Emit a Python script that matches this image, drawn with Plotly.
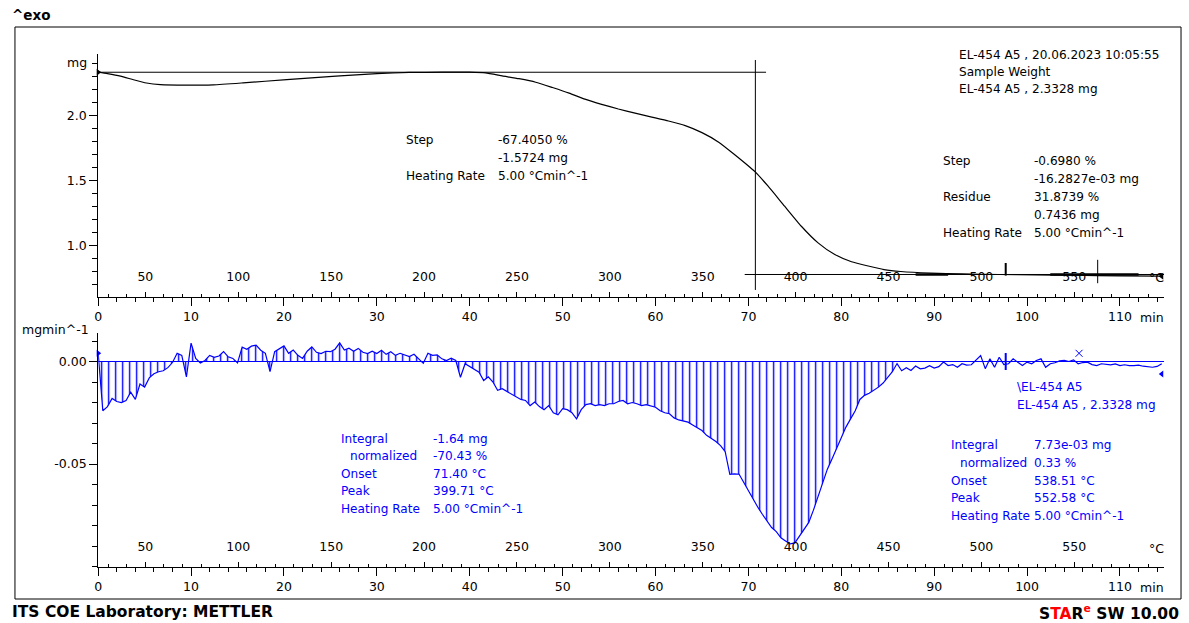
import numpy as np
import plotly.graph_objects as go

W, H = 1189, 623

# ---------------- data ----------------
T_START = 24.6        # degC at t = 0 min
HEATING_RATE = 5.0    # degC / min
T_END_MIN = 114.75    # end of the time axis (min)
SAMPLE_WEIGHT = 2.3328

# TGA curve (time in min, mass in mg)
tga_time = [0.0, 1.0, 2.4, 3.8, 5.2, 6.7, 9.5, 12.4, 15.6, 20.3, 25.6, 30.0, 33.5,
            37.0, 40.0, 41.7, 43.5, 45.3, 47.1, 48.9, 50.7, 52.4, 54.2, 56.0, 57.8,
            59.6, 61.4, 63.2, 65.0, 66.8, 68.5, 70.7, 72.1, 73.9, 75.7, 77.5, 79.3,
            81.1, 82.9, 84.6, 86.4, 89.6, 93.0, 97.0, 101.0, 105.0, 110.0, 114.5]
tga_mg = [2.333, 2.322, 2.303, 2.275, 2.250, 2.237, 2.233, 2.236, 2.251, 2.276, 2.303,
          2.322, 2.331, 2.333, 2.333, 2.328, 2.305, 2.283, 2.256, 2.215, 2.172, 2.126,
          2.086, 2.050, 2.018, 1.988, 1.958, 1.922, 1.868, 1.795, 1.700, 1.568, 1.458,
          1.302, 1.148, 1.020, 0.930, 0.875, 0.842, 0.815, 0.800, 0.787, 0.781, 0.777,
          0.774, 0.771, 0.767, 0.764]

# DTG curve, sampled every 0.5 min, in 1e-3 mg/min
DTG_STEP_MIN = 0.5
dtg_milli = [
    4.0, -24.0, -22.0, -18.0, -19.5, -20.0, -19.0, -15.0, -18.5, -11.0,
    -12.5, -8.0, -6.0, -5.0, -4.5, -3.0, -0.5, 4.0, 3.0, -7.5,
    9.0, 1.5, -0.7, 0.5, 3.0, 2.0, 2.7, 4.8, 2.3, 1.5,
    -0.7, 7.0, 6.0, 7.5, 8.0, 5.5, 4.0, -4.9, 4.8, 6.0,
    7.6, 4.0, 5.6, 3.0, 1.5, 5.0, 7.1, 4.5, 3.9, 5.0,
    4.8, 6.0, 9.1, 5.6, 6.5, 5.0, 6.4, 4.5, 3.9, 5.0,
    3.9, 5.5, 3.5, 4.8, 3.0, 4.0, 3.2, 2.4, 3.5, 1.5,
    -0.9, 4.0, 3.0, 3.2, 1.3, 0.5, 1.6, 0.5, -7.7, -1.1,
    -2.5, -3.6, -5.2, -9.3, -7.5, -10.0, -14.0, -13.3, -14.5, -16.0,
    -17.0, -18.5, -19.0, -21.5, -19.8, -22.0, -23.5, -21.5, -25.0, -26.0,
    -23.0, -23.5, -25.0, -28.0, -23.5, -21.0, -20.6, -21.5, -21.0, -21.5,
    -20.6, -20.6, -19.5, -19.0, -20.6, -20.0, -20.6, -21.5, -21.0, -21.5,
    -22.3, -24.0, -25.0, -25.5, -27.5, -28.5, -29.0, -29.6, -31.0, -32.5,
    -33.7, -36.0, -37.5, -39.0, -41.0, -44.0, -55.0, -54.8, -55.0, -59.0,
    -63.5, -67.5, -71.0, -74.5, -78.0, -81.0, -83.0, -86.0, -87.5, -89.0,
    -88.5, -85.0, -82.0, -78.5, -72.5, -66.0, -59.0, -52.5, -47.5, -42.5,
    -37.0, -32.0, -28.0, -24.0, -18.5, -16.5, -15.5, -14.0, -12.5, -10.5,
    -8.0, -5.0, -1.0, -4.5, -3.0, -4.4, -2.2, -3.6, -3.2, -2.0,
    -3.2, -2.5, -0.3, -2.0, -1.5, -2.8, -1.1, -1.8, -1.6, 0.5,
    2.9, -3.5, 1.3, -2.8, 2.1, -1.5, -1.1, 1.3, -0.5, -2.0,
    -0.3, -1.1, 0.5, 1.3, -2.8, -1.1, -0.6, 0.3, 0.5, 0.0,
    0.8, -1.1, -0.5, -0.3, -1.5, -2.0, -1.1, -1.5, -1.6, -1.2,
    -2.0, -1.6, -2.0, -2.0, -1.8, -2.3, -2.5, -2.8, -2.4, -1.1,
]
HATCH_END_MIN = 86.0          # end of the hatched integration range

# evaluation construction lines (TGA panel)
step_line_end_min = 71.9
inflection_min = 70.75
inflection_span_mg = [2.427, 0.658]
residue_level_mg = 0.777
residue_line_start_min = 69.6
tangent_segments_min = [(88.0, 91.5), (102.5, 112.0)]
limit_cross_min = 107.6
limit_cross_span_mg = [0.89, 0.71]
limit_mark_min = 97.7
peak2_temp_c = 552.58
peak2_mark_value = 0.004

# tick labels
y_top_tickvals = [1.0, 1.5, 2.0]
y_top_ticktext = ["1.0", "1.5", "2.0"]
y_bot_tickvals = [-0.05, 0.0]
y_bot_ticktext = ["-0.05", "0.00"]

# text blocks: (text, x_px, y_px)
top_mid_text = [("Step", 405, 140), ("-67.4050 %", 498, 140), ("-1.5724 mg", 498, 158),
                ("Heating Rate", 405, 176), ("5.00 °Cmin^-1", 498, 176)]
top_right_text = [("EL-454 A5 , 20.06.2023 10:05:55", 960, 55), ("Sample Weight", 960, 72),
                  ("EL-454 A5 , 2.3328 mg", 960, 89),
                  ("Step", 944, 161), ("-0.6980 %", 1035, 161), ("-16.2827e-03 mg", 1035, 179),
                  ("Residue", 944, 197), ("31.8739 %", 1035, 197), ("0.7436 mg", 1035, 215),
                  ("Heating Rate", 944, 233), ("5.00 °Cmin^-1", 1035, 233)]
bot_left_text = [("Integral", 340, 439), ("-1.64 mg", 432, 439), ("normalized", 349, 456),
                 ("-70.43 %", 432, 456), ("Onset", 340, 474), ("71.40 °C", 432, 474),
                 ("Peak", 340, 491), ("399.71 °C", 432, 491), ("Heating Rate", 340, 509),
                 ("5.00 °Cmin^-1", 432, 509)]
bot_right_text = [("\\EL-454 A5", 1018, 387), ("EL-454 A5 , 2.3328 mg", 1018, 405),
                  ("Integral", 952, 445), ("7.73e-03 mg", 1035, 445), ("normalized", 961, 463),
                  ("0.33 %", 1035, 463), ("Onset", 952, 481), ("538.51 °C", 1035, 481),
                  ("Peak", 952, 498), ("552.58 °C", 1035, 498), ("Heating Rate", 952, 516),
                  ("5.00 °Cmin^-1", 1035, 516)]

# ---------------- layout helpers ----------------
FONT = "DejaVu Sans"
FS = 12.5        # tick labels
FS_TXT = 12.1    # evaluation texts
BLUE = "#0000FF"


def px(x):
    return x / W


def py(y):
    return 1 - y / H


XDOM = [px(94.5), px(1164)]
YDOM_TOP = [py(297), py(54)]
YDOM_BOT = [py(567), py(333)]
Y_TOP_RANGE = [2.0 + (115.5 - 297) / 130, 2.0 + (115.5 - 54) / 130]
Y_BOT_RANGE = [-(567 - 361.5) / 2050, (361.5 - 333) / 2050]
TEMP_RANGE = [T_START, T_START + HEATING_RATE * T_END_MIN]

dtg_time = np.arange(len(dtg_milli)) * DTG_STEP_MIN
dtg = np.array(dtg_milli) / 1000.0
hatch_mask = dtg_time <= HATCH_END_MIN

fig = go.Figure()

# --- TGA panel ---
fig.add_trace(go.Scatter(x=tga_time, y=tga_mg, mode="lines", line=dict(color="black", width=1.2,
                         shape="spline", smoothing=0.5), xaxis="x", yaxis="y", hoverinfo="skip"))
fig.add_trace(go.Scatter(x=[0, step_line_end_min], y=[SAMPLE_WEIGHT, SAMPLE_WEIGHT], mode="lines",
                         line=dict(color="black", width=1), xaxis="x", yaxis="y"))
fig.add_trace(go.Scatter(x=[inflection_min, inflection_min], y=inflection_span_mg, mode="lines",
                         line=dict(color="black", width=1), xaxis="x", yaxis="y"))
fig.add_trace(go.Scatter(x=[residue_line_start_min, T_END_MIN], y=[residue_level_mg, residue_level_mg],
                         mode="lines", line=dict(color="black", width=1), xaxis="x", yaxis="y"))
for a, b in tangent_segments_min:
    fig.add_trace(go.Scatter(x=[a, b], y=[residue_level_mg, residue_level_mg], mode="lines",
                             line=dict(color="black", width=2.5), xaxis="x", yaxis="y"))
fig.add_trace(go.Scatter(x=[limit_cross_min, limit_cross_min], y=limit_cross_span_mg, mode="lines",
                         line=dict(color="black", width=1), xaxis="x", yaxis="y"))
fig.add_trace(go.Scatter(x=[limit_mark_min], y=[residue_level_mg + 0.04], mode="markers",
                         marker=dict(symbol="line-ns", size=9, line=dict(color="black", width=2)),
                         xaxis="x", yaxis="y"))
fig.add_trace(go.Scatter(x=[tga_time[0]], y=[tga_mg[0]], mode="markers",
                         marker=dict(symbol="triangle-right", size=6, color="black"),
                         xaxis="x", yaxis="y", cliponaxis=False))
fig.add_trace(go.Scatter(x=[tga_time[-1]], y=[tga_mg[-1]], mode="markers",
                         marker=dict(symbol="triangle-left", size=6, color="black"),
                         xaxis="x", yaxis="y", cliponaxis=False))

# --- DTG panel ---
fig.add_trace(go.Scatter(x=[0, T_END_MIN], y=[0, 0], mode="lines", line=dict(color=BLUE, width=1),
                         xaxis="x2", yaxis="y2"))
fig.add_trace(go.Scatter(x=dtg_time[hatch_mask], y=dtg[hatch_mask], mode="lines",
                         line=dict(width=0, color=BLUE), fill="tozeroy", fillcolor="rgba(0,0,0,0)",
                         fillpattern=dict(shape="|", fgcolor=BLUE, bgcolor="rgba(0,0,0,0)",
                                          fgopacity=1, size=7, solidity=0.2),
                         xaxis="x2", yaxis="y2", hoverinfo="skip"))
fig.add_trace(go.Scatter(x=dtg_time, y=dtg, mode="lines", line=dict(color=BLUE, width=1.2),
                         xaxis="x2", yaxis="y2", hoverinfo="skip"))
fig.add_trace(go.Scatter(x=[dtg_time[0]], y=[dtg[0]], mode="markers",
                         marker=dict(symbol="triangle-right", size=6, color=BLUE),
                         xaxis="x2", yaxis="y2", cliponaxis=False))
fig.add_trace(go.Scatter(x=[dtg_time[-1]], y=[dtg[-1] - 0.005], mode="markers",
                         marker=dict(symbol="triangle-left", size=6, color=BLUE),
                         xaxis="x2", yaxis="y2", cliponaxis=False))
fig.add_trace(go.Scatter(x=[(peak2_temp_c - T_START) / HEATING_RATE], y=[peak2_mark_value],
                         mode="markers", marker=dict(symbol="x-thin", size=7,
                                                     line=dict(color=BLUE, width=1)),
                         xaxis="x2", yaxis="y2"))
fig.add_trace(go.Scatter(x=[limit_mark_min], y=[0.0], mode="markers",
                         marker=dict(symbol="line-ns", size=12, line=dict(color=BLUE, width=2)),
                         xaxis="x2", yaxis="y2"))

# invisible carriers so that the temperature axes are drawn
fig.add_trace(go.Scatter(x=TEMP_RANGE, y=[Y_TOP_RANGE[0]] * 2, mode="markers", opacity=0,
                         xaxis="x3", yaxis="y", hoverinfo="skip"))
fig.add_trace(go.Scatter(x=TEMP_RANGE, y=[Y_BOT_RANGE[0]] * 2, mode="markers", opacity=0,
                         xaxis="x4", yaxis="y2", hoverinfo="skip"))

TICKFONT = dict(family=FONT, size=FS, color="black")


def time_axis(anchor):
    return dict(domain=XDOM, range=[0, T_END_MIN], anchor=anchor, showline=True, linecolor="black",
                linewidth=1, ticks="outside", ticklen=8, tickcolor="black", tick0=0, dtick=10,
                minor=dict(dtick=2, tick0=0, ticklen=4, ticks="outside", tickcolor="black"),
                showgrid=False, zeroline=False, tickfont=TICKFONT, fixedrange=True)


def temp_axis(over, pos):
    return dict(overlaying=over, anchor="free", position=pos, side="top", range=TEMP_RANGE,
                showline=False, ticks="outside", ticklen=5, tickcolor="black", tick0=0, dtick=50,
                minor=dict(dtick=10, tick0=0, ticklen=3, ticks="outside", tickcolor="black"),
                showgrid=False, zeroline=False, tickfont=TICKFONT, ticklabelstandoff=6,
                fixedrange=True)


fig.update_layout(
    width=W, height=H, margin=dict(l=0, r=0, t=0, b=0),
    paper_bgcolor="white", plot_bgcolor="white", showlegend=False,
    font=dict(family=FONT, size=FS, color="black"),
    xaxis=time_axis("y"),
    xaxis2=time_axis("y2"),
    xaxis3=temp_axis("x", YDOM_TOP[0]),
    xaxis4=temp_axis("x2", YDOM_BOT[0]),
    yaxis=dict(domain=YDOM_TOP, range=Y_TOP_RANGE, anchor="x", showline=True, linecolor="black",
               ticks="outside", ticklen=8, tickcolor="black", tickmode="array",
               tickvals=y_top_tickvals, ticktext=y_top_ticktext,
               minor=dict(tickmode="linear", tick0=0, dtick=0.1, ticklen=5, ticks="outside",
                          tickcolor="black"),
               showgrid=False, zeroline=False, tickfont=TICKFONT, fixedrange=True),
    yaxis2=dict(domain=YDOM_BOT, range=Y_BOT_RANGE, anchor="x2", showline=True, linecolor="black",
                ticks="outside", ticklen=8, tickcolor="black", tickmode="array",
                tickvals=y_bot_tickvals, ticktext=y_bot_ticktext,
                minor=dict(tickmode="linear", tick0=0, dtick=0.01, ticklen=5, ticks="outside",
                           tickcolor="black"),
                showgrid=False, zeroline=False, tickfont=TICKFONT, fixedrange=True),
)

# outer frame
fig.add_shape(type="rect", xref="paper", yref="paper", x0=px(11), x1=px(1181), y0=py(599), y1=py(27),
              line=dict(color="black", width=1), fillcolor="rgba(0,0,0,0)")

annos = []
PAD_L = 4   # annotation boxes add inner padding; compensate so the text starts at x
PAD_R = 3


def txt(t, x, y, color="black", size=FS_TXT, xanchor="left", bold=False):
    s = f"<b>{t}</b>" if bold else t
    xx = x - PAD_L if xanchor == "left" else x + PAD_R
    annos.append(dict(text=s, x=px(xx), y=py(y), xref="paper", yref="paper", xanchor=xanchor,
                      yanchor="middle", showarrow=False, font=dict(family=FONT, size=size, color=color)))


for t, x, y in top_mid_text + top_right_text:
    txt(t, x, y)
for t, x, y in bot_left_text + bot_right_text:
    txt(t, x, y, color=BLUE)

# axis units
txt("mg", 82, 62, xanchor="right", size=FS)
txt("mgmin^-1", 84, 329, xanchor="right", size=FS)
txt("min", 1142, 317, size=FS)
txt("min", 1142, 587, size=FS)
txt("°C", 1151, 277, size=FS)
txt("°C", 1151, 548, size=FS)

# header / footer
txt("^exo", 10, 15, bold=True, size=13.5)
txt("ITS COE Laboratory: METTLER", 10, 612, bold=True, size=15.5)
txt("S<span style='color:#FF0000'>TA</span>R<sup><span style='color:#FF0000'>e</span></sup> SW 10.00",
    1178, 612, bold=True, size=15.5, xanchor="right")

fig.update_layout(annotations=annos)
fig.write_html("out.html", config=dict(displayModeBar=False),
               post_script="document.body.style.margin='0px';document.body.style.padding='0px';")
